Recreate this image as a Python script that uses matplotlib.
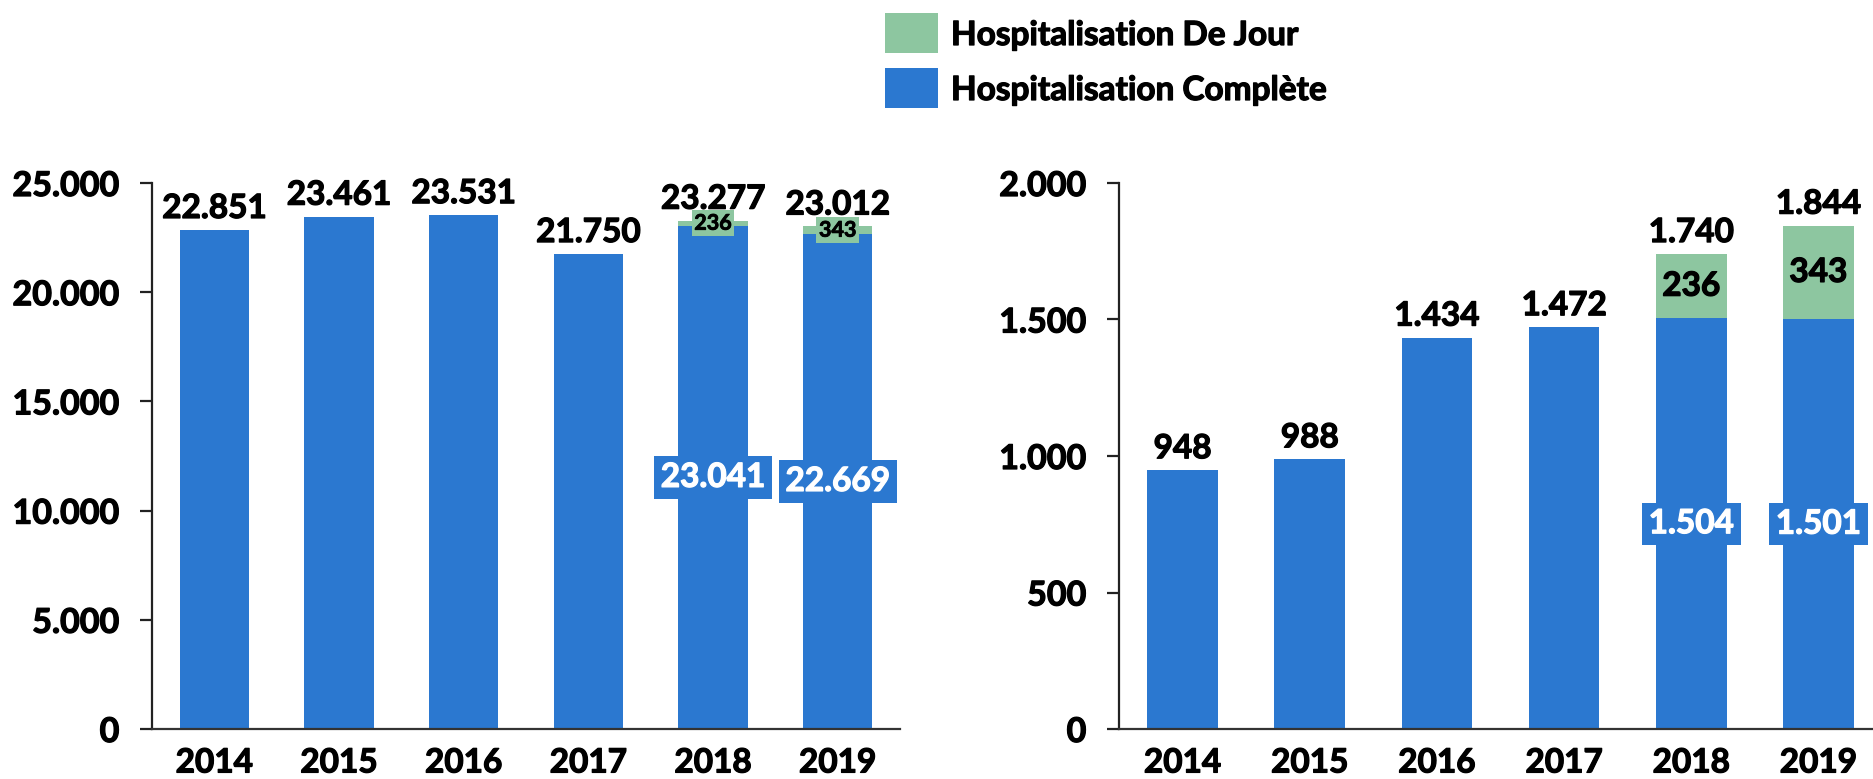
import matplotlib
matplotlib.use("Agg")
import matplotlib.pyplot as plt
import matplotlib.patheffects as pe
from matplotlib.patches import Rectangle

years = ["2014", "2015", "2016", "2017", "2018", "2019"]

left_complete = [22851, 23461, 23531, 21750, 23041, 22669]
left_jour = [0, 0, 0, 0, 236, 343]
left_yticks = [0, 5000, 10000, 15000, 20000, 25000]

right_complete = [948, 988, 1434, 1472, 1504, 1501]
right_jour = [0, 0, 0, 0, 236, 343]
right_yticks = [0, 500, 1000, 1500, 2000]

legend_labels = ["Hospitalisation De Jour", "Hospitalisation Complète"]

BLUE = "#2B78D0"
GREEN = "#8DC6A0"
FONT = ["Lato", "DejaVu Sans"]
BIG = 24
WT = "bold"
PE_K = [pe.withStroke(linewidth=0.9, foreground="black")]
PE_W = [pe.withStroke(linewidth=0.9, foreground="white")]

plt.rcParams["font.family"] = FONT
plt.rcParams["font.weight"] = WT

fig = plt.figure(figsize=(18.73, 7.79), dpi=100)
H = 779.0
W = 1873.0
bottom = (H - 729) / H
height = 546 / H


def fmt(v):
    return f"{v:,}".replace(",", ".")


def draw(ax, complete, jour, yticks, ymax, small_jour):
    x = list(range(len(years)))
    ax.bar(x, complete, width=0.555, color=BLUE, zorder=2)
    ax.bar(x, jour, bottom=complete, width=0.555, color=GREEN, zorder=2)
    ax.set_xlim(-0.5, 5.5)
    ax.set_ylim(0, ymax)
    ax.set_yticks(yticks)
    ax.set_yticklabels([fmt(t) for t in yticks])
    ax.set_xticks(x)
    ax.set_xticklabels(years)
    for s in ["top", "right"]:
        ax.spines[s].set_visible(False)
    ax.spines["left"].set_linewidth(1.6)
    ax.spines["left"].set_color("#222222")
    ax.spines["bottom"].set_linewidth(1.6)
    ax.spines["bottom"].set_color("#333333")
    ax.tick_params(axis="y", length=8.5, width=1.6, direction="out", pad=15,
                   labelsize=BIG + 0.5, color="#222222")
    ax.tick_params(axis="x", length=0, pad=14, labelsize=BIG)
    for lab in ax.get_xticklabels() + ax.get_yticklabels():
        lab.set_fontweight(WT)
        lab.set_path_effects(PE_K)
    for i, (c, j) in enumerate(zip(complete, jour)):
        total = c + j
        ax.annotate(fmt(total), (i, total), xytext=(0, 5), textcoords="offset points",
                    ha="center", va="bottom", fontsize=BIG, fontweight=WT,
                    color="black", zorder=5, path_effects=PE_K)
        if j > 0:
            ax.text(i, c / 2, fmt(c), ha="center", va="center", fontsize=BIG,
                    fontweight=WT, color="white", zorder=5, path_effects=PE_W,
                    bbox=dict(boxstyle="square,pad=0.2", fc=BLUE, ec="none"))
            if small_jour:
                ax.text(i, c + j / 2, fmt(j), ha="center", va="center", fontsize=15.5,
                        fontweight=WT, color="black", zorder=5,
                        path_effects=[pe.withStroke(linewidth=0.6, foreground="black")],
                        bbox=dict(boxstyle="square,pad=0.12", fc=GREEN, ec="none"))
            else:
                ax.text(i, c + j / 2, fmt(j), ha="center", va="center", fontsize=BIG,
                        fontweight=WT, color="black", zorder=5, path_effects=PE_K)


ax1 = fig.add_axes([152 / W, bottom, 748 / W, height])
draw(ax1, left_complete, left_jour, left_yticks, 25000, True)

ax2 = fig.add_axes([1119 / W, bottom, 763 / W, height])
draw(ax2, right_complete, right_jour, right_yticks, 2000, False)

# legend
for k, (lab, col) in enumerate(zip(legend_labels, [GREEN, BLUE])):
    y0 = 13 + k * 55
    fig.add_artist(Rectangle((885 / W, (H - y0 - 40) / H), 53 / W, 40 / H,
                             transform=fig.transFigure, fc=col, ec="none"))
    fig.text(951 / W, (H - y0 - 20) / H, lab, ha="left", va="center_baseline",
             fontsize=BIG, fontweight=WT, color="black", path_effects=PE_K)

fig.savefig("out.png", dpi=100)
